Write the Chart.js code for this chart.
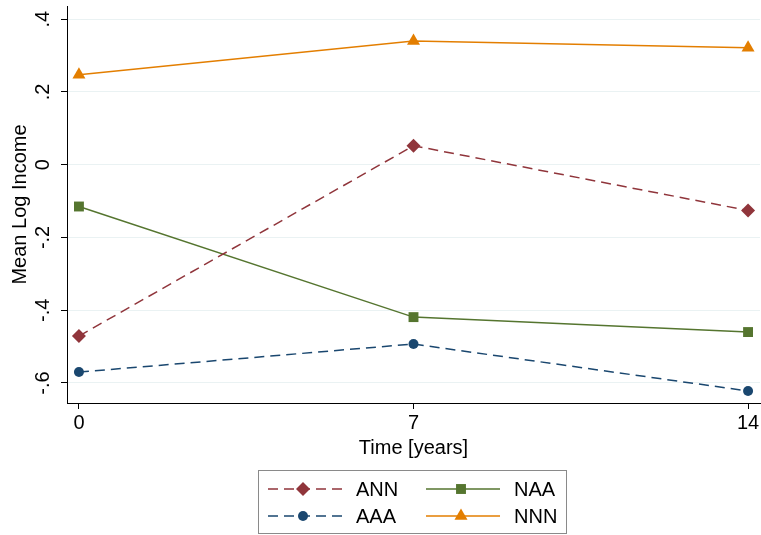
<!DOCTYPE html>
<html>
<head>
<meta charset="utf-8">
<script src="https://cdn.jsdelivr.net/npm/chart.js@4/dist/chart.umd.min.js"></script>
<style>
  html, body { margin: 0; padding: 0; background: #fff; }
</style>
</head>
<body>
<canvas id="incomeChart" width="761" height="535"></canvas>
<script>
// data
var years = [0, 7, 14];
var annValues = [-0.471, 0.052, -0.126];
var naaValues = [-0.115, -0.419, -0.460];
var aaaValues = [-0.570, -0.493, -0.622];
var nnnValues = [0.247, 0.340, 0.321];
var xTicks = [0, 7, 14];
var yTicks = [-0.6, -0.4, -0.2, 0, 0.2, 0.4];

function toPoints(vals) {
  return years.map(function(t, i) { return {x: t, y: vals[i]}; });
}

// stata style: ".4", "-.2", "0"
function stataLabel(v) {
  if (Math.abs(v) < 1e-9) return "0";
  var s = Math.abs(v).toFixed(1).replace(/^0/, "");
  return (v < 0 ? "-" : "") + s;
}

Chart.defaults.font.family = '"Liberation Sans", Arial, sans-serif';
Chart.defaults.font.size = 20;
Chart.defaults.color = "#000";

var lineWidth = 1.5;

// legend box at the bottom, two columns like stata
var stataLegend = {
  id: "stataLegend",
  afterDraw: function(chart) {
    var ctx = chart.ctx;
    ctx.save();
    ctx.strokeStyle = "#8a8a8a";
    ctx.lineWidth = 1;
    ctx.strokeRect(258.5, 470.5, 308, 63);
    chart.data.datasets.forEach(function(ds, i) {
      var col = i % 2, row = Math.floor(i / 2);
      var x0 = 268 + col * 158, y = 489 + row * 27;
      ctx.strokeStyle = ds.borderColor;
      ctx.lineWidth = lineWidth;
      ctx.setLineDash(ds.borderDash || []);
      ctx.beginPath();
      ctx.moveTo(x0, y);
      ctx.lineTo(x0 + 74, y);
      ctx.stroke();
      ctx.setLineDash([]);
      ctx.fillStyle = ds.borderColor;
      Chart.helpers.drawPoint(ctx, {pointStyle: ds.pointStyle, radius: ds.pointRadius, rotation: 0, borderWidth: 0}, x0 + 35, y);
      ctx.fillStyle = "#000";
      ctx.font = '20px "Liberation Sans", Arial, sans-serif';
      ctx.textBaseline = "middle";
      ctx.fillText(ds.label, x0 + 88, y + 1);
    });
    ctx.restore();
  }
};

new Chart("incomeChart", {
  type: "line",
  data: {
    datasets: [{
      label: "ANN",
      data: toPoints(annValues),
      borderColor: "#90353b",
      backgroundColor: "#90353b",
      borderDash: [10, 6],
      pointStyle: "rectRot",
      pointRadius: 7
    }, {
      label: "NAA",
      data: toPoints(naaValues),
      borderColor: "#55752f",
      backgroundColor: "#55752f",
      pointStyle: "rect",
      pointRadius: 7
    }, {
      label: "AAA",
      data: toPoints(aaaValues),
      borderColor: "#1a476f",
      backgroundColor: "#1a476f",
      borderDash: [10, 6],
      pointStyle: "circle",
      pointRadius: 5
    }, {
      label: "NNN",
      data: toPoints(nnnValues),
      borderColor: "#e37e00",
      backgroundColor: "#e37e00",
      pointStyle: "triangle",
      pointRadius: 7.5
    }]
  },
  options: {
    responsive: false,
    animation: false,
    devicePixelRatio: 1,
    elements: {
      line: {borderWidth: lineWidth, tension: 0, fill: false},
      point: {borderWidth: 0}
    },
    layout: {autoPadding: false, padding: {top: 6, right: 1, left: 0, bottom: 75}},
    plugins: {
      legend: {display: false},
      tooltip: {enabled: false}
    },
    scales: {
      x: {
        type: "linear",
        min: -0.25,
        max: 14.25,
        afterBuildTicks: function(scale) {
          scale.ticks = xTicks.map(function(v) { return {value: v}; });
        },
        afterFit: function(scale) {
          scale.height = 57;
          scale.paddingLeft = 0;
          scale.paddingRight = 0;
        },
        ticks: {padding: 2, maxRotation: 0},
        grid: {drawOnChartArea: false, tickColor: "#000", tickLength: 6},
        border: {color: "#000", width: 1},
        title: {display: true, text: "Time [years]", padding: {top: 0, bottom: 0}}
      },
      y: {
        min: -0.655,
        max: 0.436,
        afterBuildTicks: function(scale) {
          scale.ticks = yTicks.map(function(v) { return {value: v}; });
        },
        afterFit: function(scale) {
          scale.width = 67;
          scale.paddingTop = 0;
          scale.paddingBottom = 0;
        },
        ticks: {
          minRotation: 90,
          maxRotation: 90,
          crossAlign: "center",
          padding: 6,
          callback: function(v) { return stataLabel(v); }
        },
        grid: {color: "#eaf2f3", tickColor: "#000", tickLength: 6},
        border: {color: "#000", width: 1},
        title: {display: true, text: "Mean Log Income", padding: {top: 8, bottom: 0}}
      }
    }
  },
  plugins: [stataLegend]
});
</script>
</body>
</html>
